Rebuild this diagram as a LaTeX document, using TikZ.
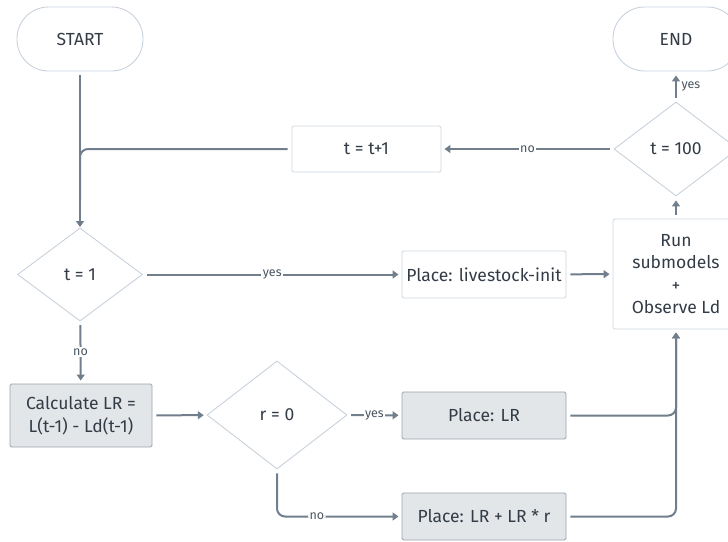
\documentclass[tikz,border=0pt]{standalone}
\usepackage{fontspec}
\setmainfont{Fira Sans}
\usetikzlibrary{shapes.geometric,arrows.meta}

\definecolor{linecol}{HTML}{717E8C}
\definecolor{edgecol}{HTML}{C8D2DC}
\definecolor{boxedge}{HTML}{CFD6DD}
\definecolor{greyfill}{HTML}{E3E6E9}
\definecolor{greyedge}{HTML}{9AA3AD}
\definecolor{textcol}{HTML}{333C46}
\definecolor{lblcol}{HTML}{4A5560}

\tikzset{
  every node/.style={text=textcol, font=\fontsize{17.5}{22}\selectfont},
  terminal/.style={draw=edgecol, line width=0.9pt, rounded corners=31.5pt,
    minimum width=126pt, minimum height=64pt, inner sep=0pt},
  decision/.style={diamond, draw=edgecol, line width=0.9pt, inner sep=0pt},
  plainbox/.style={draw=boxedge, line width=0.9pt, rounded corners=1.5pt,
    align=center, inner sep=0pt},
  greybox/.style={draw=greyedge, fill=greyfill, line width=0.9pt,
    rounded corners=1.5pt, align=center, inner sep=0pt},
  conn/.style={draw=linecol, line width=2pt, shorten <=4pt},
  flow/.style={conn, -{Triangle[length=6pt,width=8pt]}, shorten >=3pt},
  lbl/.style={fill=white, text=lblcol, inner sep=1.5pt,
    font=\fontsize{12.5}{14}\selectfont},
}

\begin{document}
\begin{tikzpicture}[x=1pt, y=-1pt]
  \useasboundingbox (0,0) rectangle (728,541);
  \clip (0,0) rectangle (728,541);

  % terminals
  \node[terminal] (start) at (80,39) {START};
  \node[terminal] (end) at (676,39) {END};

  % top row
  \node[plainbox, minimum width=149pt, minimum height=46pt] (tinc) at (366.5,149) {t = t+1};
  \node[decision, minimum width=124pt, minimum height=94pt] (t100) at (676,149) {t = 100};

  % middle row
  \node[decision, minimum width=125pt, minimum height=93pt] (t1) at (80,274.5) {t = 1};
  \node[plainbox, minimum width=164pt, minimum height=47pt] (live) at (484,274.5) {Place: livestock-init};
  \node[plainbox, minimum width=126pt, minimum height=110pt] (run) at (676,274)
    {Run\\[0.5pt] submodels\\[0.5pt] +\\[0.5pt] Observe Ld};

  % lower rows
  \node[greybox, minimum width=142pt, minimum height=63pt] (calc) at (81,415.5)
    {Calculate LR =\\[1pt] L(t-1) - Ld(t-1)};
  \node[decision, minimum width=140pt, minimum height=108pt] (r0) at (277,415) {r = 0};
  \node[greybox, minimum width=164pt, minimum height=47pt] (plr) at (484,415.5) {Place: LR};
  \node[greybox, minimum width=164pt, minimum height=47pt] (plrr) at (484,516.5) {Place: LR + LR * r};

  \coordinate (merge) at (80,200);

  % connectors
  \draw[flow, shorten >=0.5pt] (start) -- (t1);
  \draw[conn, rounded corners=8pt] (tinc.west) -| (merge);
  \draw[flow] (t100) -- node[lbl]{no} (tinc);
  \draw[flow, shorten >=4pt] (t100) -- node[lbl, anchor=west, xshift=3pt, fill=none]{yes} (end);
  \draw[flow, shorten >=4pt] (run) -- (t100);
  \draw[flow] (t1) -- node[lbl]{yes} (live);
  \draw[flow] (live) -- (run);
  \draw[flow] (t1) -- node[lbl]{no} (calc);
  \draw[flow] (calc) -- (r0);
  \draw[flow] (r0) -- node[lbl]{yes} (plr);
  \draw[flow, rounded corners=8pt] (r0.south) |- node[lbl, pos=0.66]{no} (plrr.west);
  \draw[flow, rounded corners=8pt] (plr.east) -| (run.south);
  \draw[flow, rounded corners=8pt] (plrr.east) -| (run.south);
\end{tikzpicture}
\end{document}
